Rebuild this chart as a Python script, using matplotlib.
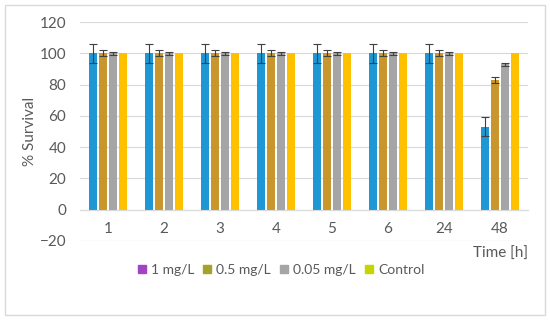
import numpy as np
import matplotlib.pyplot as plt
from matplotlib.patches import Rectangle
from matplotlib.lines import Line2D

plt.rcParams['font.family'] = ['Lato', 'DejaVu Sans']

times = ['1', '2', '3', '4', '5', '6', '24', '48']
series = ['1 mg/L', '0.5 mg/L', '0.05 mg/L', 'Control']
surv_1 = [100, 100, 100, 100, 100, 100, 100, 53]
surv_05 = [100, 100, 100, 100, 100, 100, 100, 83]
surv_005 = [100, 100, 100, 100, 100, 100, 100, 93]
surv_ctrl = [100, 100, 100, 100, 100, 100, 100, 100]
err_1 = [6, 6, 6, 6, 6, 6, 6, 6]
err_05 = [2, 2, 2, 2, 2, 2, 2, 2]
err_005 = [1, 1, 1, 1, 1, 1, 1, 1]
err_ctrl = [0, 0, 0, 0, 0, 0, 0, 0]

bar_colors = ['#1f97d4', '#c8962c', '#a5a5a5', '#ffc000']
legend_colors = ['#a044c4', '#a3a32a', '#a5a5a5', '#c6d400']
txt = '#595959'

fig = plt.figure(figsize=(5.5, 3.21), dpi=100)
fig.patches.append(Rectangle((5/550, 6/321), 540/550, 310/321, transform=fig.transFigure,
                             fill=False, edgecolor='#d9d9d9', lw=1))
ax = fig.add_axes([80/550, 1-241/321, 448/550, 219/321])

x = np.arange(len(times))
vals = [surv_1, surv_05, surv_005, surv_ctrl]
errs = [err_1, err_05, err_005, err_ctrl]
w = 0.145
step = 0.18
for i in range(4):
    off = (i - 1.5) * step
    ax.bar(x + off, vals[i], w, color=bar_colors[i], zorder=2)
    e = np.array(errs[i])
    m = e > 0
    ax.errorbar((x + off)[m], np.array(vals[i])[m], yerr=e[m], fmt='none',
                ecolor='#404040', elinewidth=0.8, capsize=3, capthick=0.8, zorder=3)

ax.set_xlim(-0.5, len(times) - 0.5)
ax.set_ylim(-20, 120)
ax.set_yticks(np.arange(-20, 121, 20))
ax.grid(axis='y', color='#d9d9d9', lw=0.8, zorder=0)
ax.set_axisbelow(True)
for s in ['top', 'right', 'left']:
    ax.spines[s].set_visible(False)
ax.spines['bottom'].set_position(('data', 0))
ax.spines['bottom'].set_color('#d9d9d9')
ax.axhline(-20, color='#d9d9d9', lw=0.8, zorder=0)
ax.set_xticks(x)
ax.set_xticklabels(times)
ax.tick_params(axis='x', length=0, pad=9, labelsize=11, labelcolor=txt)
ax.tick_params(axis='y', length=0, pad=10, labelsize=11, labelcolor=txt)

ax.set_ylabel('% Survival', fontsize=11, color=txt, labelpad=2)
fig.text(528/550, 1-254/321, 'Time [h]', ha='right', va='center', fontsize=11, color=txt)

handles = [Line2D([], [], marker='s', ls='none', color=c, markersize=6) for c in legend_colors]
fig.legend(handles, series, loc='center', bbox_to_anchor=(0.51, 1-270/321), ncol=4,
           frameon=False, fontsize=10, labelcolor=txt, handlelength=0.7,
           handletextpad=0.3, columnspacing=0.6)

fig.savefig('out.png', dpi=100)
